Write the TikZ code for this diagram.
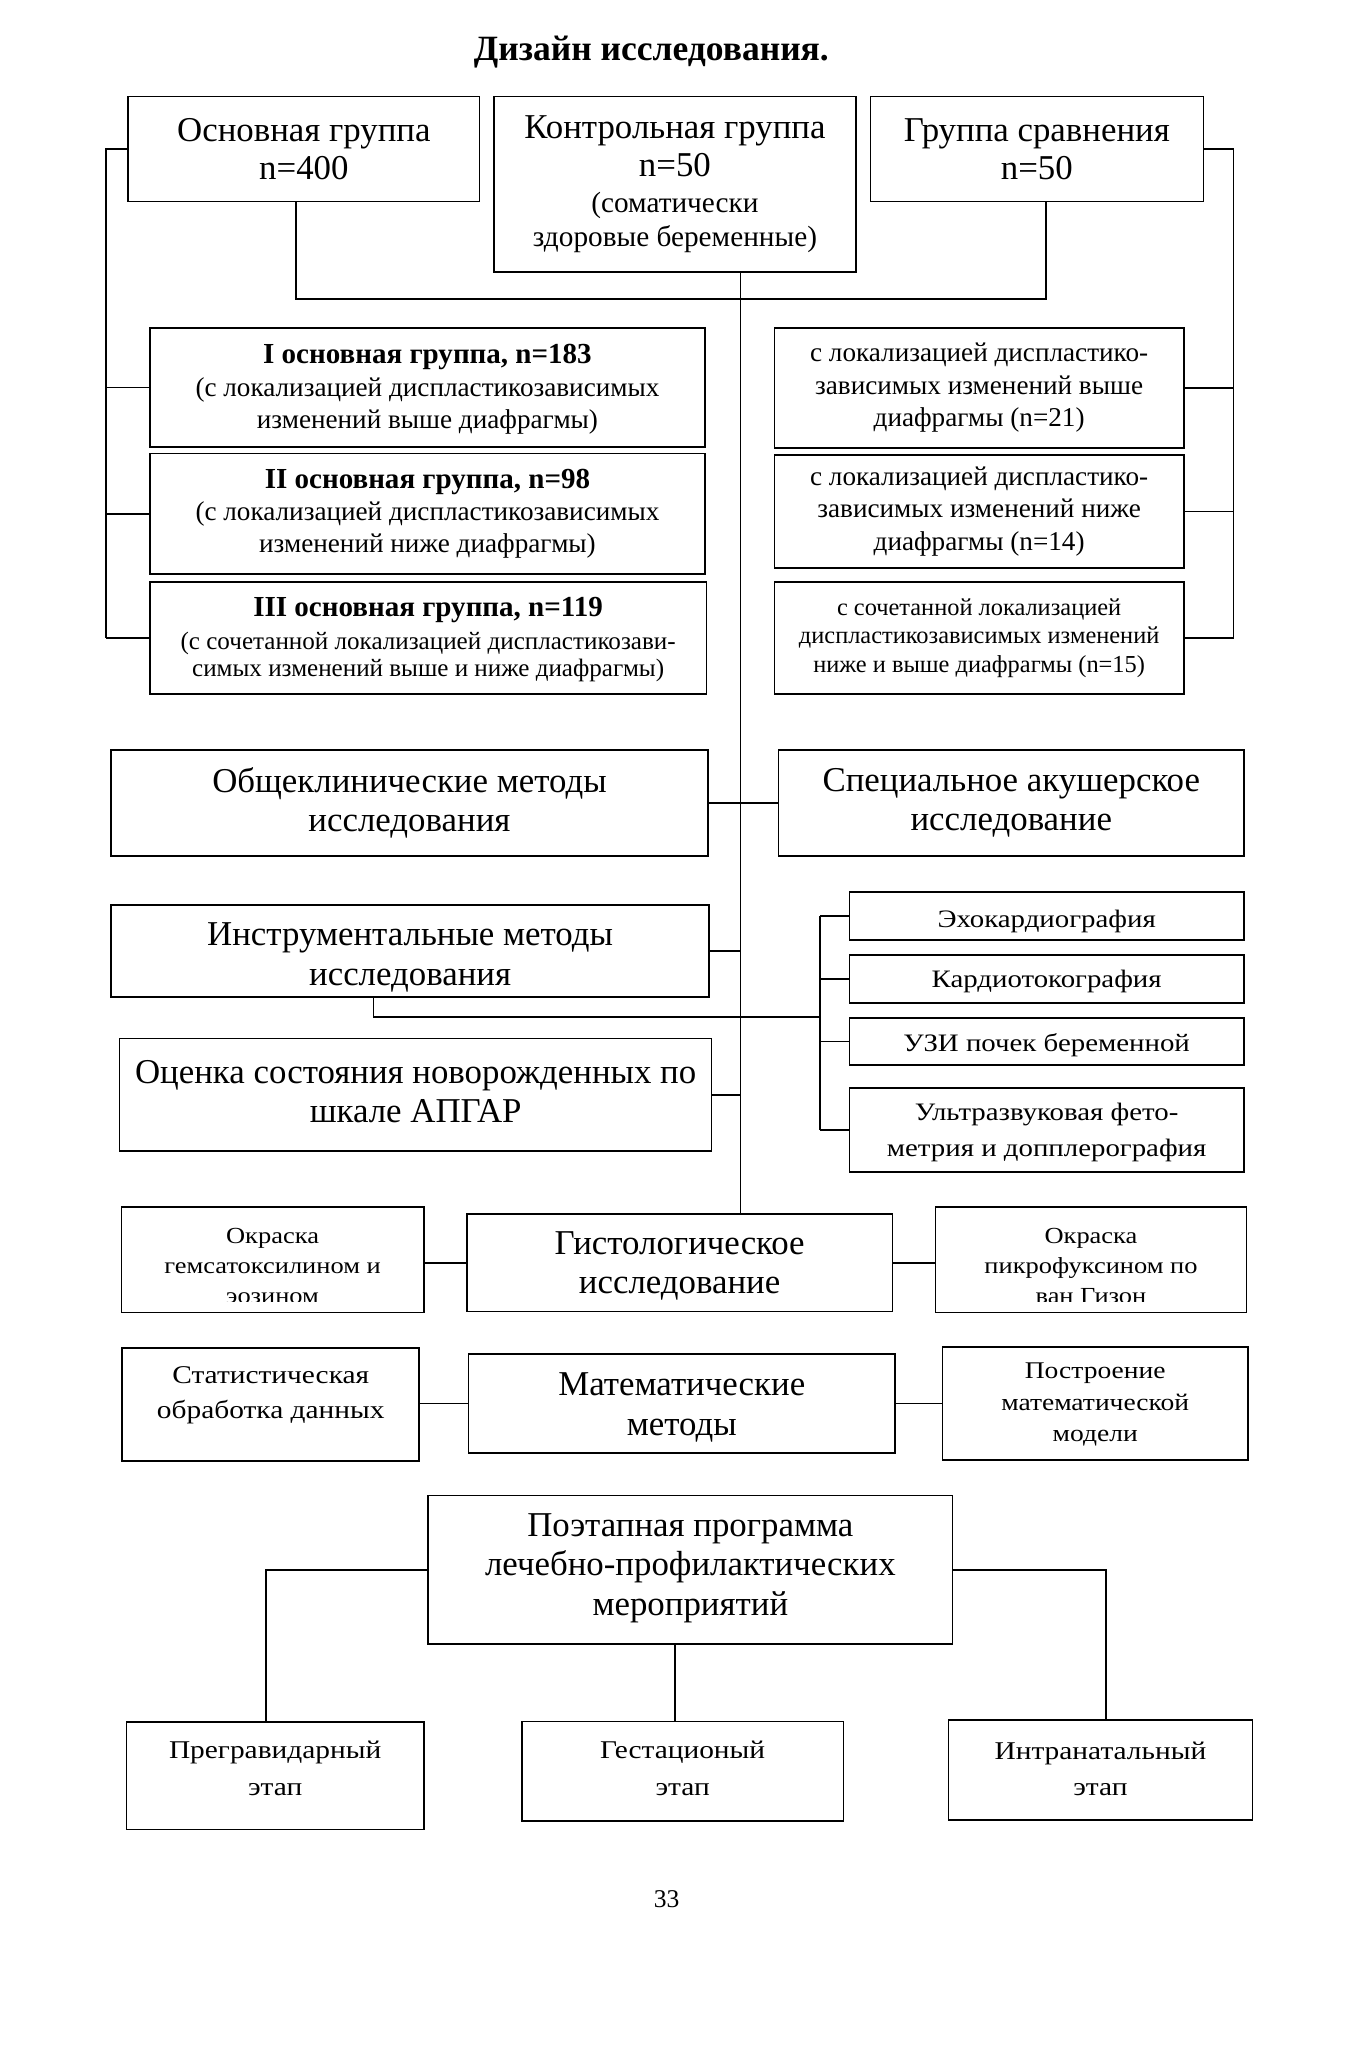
\documentclass[tikz,border=0pt]{standalone}
\usepackage{fontspec}
\setmainfont{Liberation Serif}
\newfontfamily\widefont[FakeStretch=1.15]{Liberation Serif}
\usetikzlibrary{calc}

\begin{document}
\begin{tikzpicture}[x=0.01984cm, y=-0.02cm,
  box/.style={draw, line width=0.7pt, inner sep=0pt},
  txt/.style={align=center, inner sep=0pt},
  link/.style={line width=0.7pt},
  big/.style={txt, font=\fontsize{15}{17}\selectfont},
  grp/.style={txt, font=\fontsize{11.7}{13.9}\selectfont},
  subw/.style={txt, font=\widefont\fontsize{10.8}{15.7}\selectfont},
  stainw/.style={txt, font=\widefont\fontsize{9.9}{12.9}\selectfont},
  stagew/.style={txt, font=\widefont\fontsize{11}{15.8}\selectfont}]

%─────────────
% Controls
%─────────────
\useasboundingbox (-0.78,0) rectangle (1031.48,1550.4);
\newcommand{\grptitle}{\bfseries\fontsize{12.5}{13.9}\selectfont}
\newcommand{\ctrlsub}{\fontsize{12.6}{14.8}\selectfont}

%─────────────────────────────────────────────────────────────
% Box = frame node + text node (corners in page units, y down)
%─────────────────────────────────────────────────────────────
\newcommand{\drawBox}[8]{%
  \pgfmathsetlengthmacro{\boxW}{(#5-#3)*0.01984cm}%
  \pgfmathsetlengthmacro{\boxH}{(#6-#4)*0.02cm}%
  \node[box, minimum width=\boxW, minimum height=\boxH] (#1) at ({(#3+#5)/2},{(#4+#6)/2}) {};
  \node[#2] (#1-txt) at ({(#3+#5)/2},{(#4+#6)/2+#8}) {#7};
}
% same, but the text is cut off above the bottom edge
\newcommand{\drawCutBox}[9]{%
  \begin{scope}
    \clip (#3,#4) rectangle (#5,#9);
    \node[#2] (#1-txt) at ({(#3+#5)/2},{(#4+#6)/2+#8}) {#7};
  \end{scope}
  \pgfmathsetlengthmacro{\boxW}{(#5-#3)*0.01984cm}%
  \pgfmathsetlengthmacro{\boxH}{(#6-#4)*0.02cm}%
  \node[box, minimum width=\boxW, minimum height=\boxH] (#1) at ({(#3+#5)/2},{(#4+#6)/2}) {};
}

%─────────────
% Title
%─────────────
\node[font=\bfseries\fontsize{15.3}{17}\selectfont] (title) at (496,39.6) {Дизайн исследования.};

%─────────────
% Groups
%─────────────
\drawBox{osn}{big}{97}{73}{365}{152.5}{Основная группа\\[-0.5pt]n=400}{0}
\drawBox{ctrl}{big}{376}{73}{652}{205.5}{Контрольная группа\\[-0.5pt]n=50\\[-1.6pt]\ctrlsub (соматически\\[-2.2pt]\ctrlsub здоровые беременные)}{0}
\drawBox{cmp}{big}{663}{73}{917}{152.5}{Группа сравнения\\[-0.5pt]n=50}{0}

\drawBox{grpI}{grp}{113.5}{248}{537}{338}{\grptitle I основная группа, n=183\\(с локализацией диспластикозависимых\\изменений выше диафрагмы)}{1.5}
\drawBox{grpII}{grp}{113.5}{343}{537}{434}{\grptitle II основная группа, n=98\\(с локализацией диспластикозависимых\\изменений ниже диафрагмы)}{0}
\drawBox{grpIII}{txt, font=\fontsize{10.8}{11.6}\selectfont}{113.5}{440}{538}{525}{\grptitle III основная группа, n=119\\[2.6pt](с сочетанной локализацией диспластикозави-\\симых изменений выше и ниже диафрагмы)}{1.5}

\drawBox{cmpI}{grp}{590}{248}{902}{338.6}{с локализацией диспластико-\\зависимых изменений выше\\диафрагмы (n=21)}{0}
\drawBox{cmpII}{grp}{590}{344}{902}{429.4}{с локализацией диспластико-\\зависимых изменений ниже\\диафрагмы (n=14)}{0}
\drawBox{cmpIII}{txt, font=\fontsize{10.5}{12.2}\selectfont}{590}{440}{902}{525}{с сочетанной локализацией\\диспластикозависимых изменений\\ниже и выше диафрагмы (n=15)}{0}

%─────────────
% Methods
%─────────────
\drawBox{obsh}{big}{84}{567}{539}{647.5}{Общеклинические методы\\исследования}{0}
\drawBox{spec}{big}{593}{567}{948}{647.5}{Специальное акушерское\\исследование}{0}
\drawBox{instr}{big}{84}{684.5}{540}{754}{Инструментальные методы\\исследования}{5}
\drawBox{apgar}{big}{90.5}{785.3}{542}{870.6}{Оценка состояния новорожденных по\\шкале АПГАР}{-2.5}

\drawCutBox{echo}{subw}{647}{674.5}{948}{711}{Эхокардиография}{4}{706}
\drawCutBox{ctg}{subw}{647}{722.4}{948}{758.4}{Кардиотокография}{1.6}{753.5}
\drawCutBox{uzi}{subw}{647}{770}{948}{805.6}{УЗИ почек беременной}{3}{801}
\drawCutBox{ultra}{subw}{647}{823}{948}{886.3}{Ультразвуковая фето-\\метрия и допплерография}{2}{881}

\drawCutBox{stainL}{stainw}{91.8}{913}{322.4}{992.6}{Окраска\\гемсатоксилином и\\эозином}{4.7}{984}
\drawBox{hist}{big}{355.3}{918}{679.8}{992}{Гистологическое\\исследование}{2.5}
\drawCutBox{stainR}{stainw}{712.7}{913}{949.9}{992.6}{Окраска\\пикрофуксином по\\ван Гизон}{4.7}{984}

\drawBox{stat}{txt, font=\widefont\fontsize{11}{15.2}\selectfont}{92.4}{1019.6}{319}{1105}{Статистическая\\обработка данных}{-7}
\drawBox{math}{big}{356.6}{1024}{681.8}{1099}{Математические\\методы}{3}
\drawBox{model}{txt, font=\widefont\fontsize{10.3}{13.6}\selectfont}{718}{1018.7}{951}{1104}{Построение\\математической\\модели}{1}

%─────────────
% Programme
%─────────────
\drawBox{prog}{big}{325.7}{1131}{725.8}{1243.5}{Поэтапная программа\\лечебно-профилактических\\мероприятий}{-1.5}
\drawBox{pregrav}{stagew}{95.7}{1302.5}{322.4}{1383.5}{Прегравидарный\\этап}{-5.5}
\drawBox{gest}{stagew}{397.3}{1301.8}{642.4}{1377}{Гестационый\\этап}{-1.8}
\drawBox{intra}{stagew}{722.5}{1301}{954.5}{1376.5}{Интранатальный\\этап}{-1}

\node[font=\fontsize{11}{13}\selectfont] (page) at (507.7,1436.6) {33};

%─────────────
% Connectors
%─────────────
\coordinate (busL) at (225,226);
\coordinate (busR) at (797,226);
\coordinate (trunk) at (564,0);
\coordinate (brL) at (80,0);
\coordinate (brR) at (940,0);
\coordinate (instrDrop) at (284,769);
\coordinate (subBr) at (624.6,0);
\coordinate (stL) at (202,0);
\coordinate (stC) at (514,0);
\coordinate (stR) at (842.8,0);

\draw[link] (osn.south -| busL) -- (busL) -- (busR) -- (busR |- cmp.south);
\draw[link] (ctrl.south -| trunk) -- (hist.north -| trunk);

% left and right brackets
\draw[link] (osn.west) -- (osn.west -| brL) -- (grpIII.west -| brL);
\foreach \g in {grpI,grpII,grpIII} {
  \draw[link] (\g.west) -- (\g.west -| brL);
}
\draw[link] (cmp.east) -- (cmp.east -| brR) -- (cmpIII.east -| brR);
\foreach \g in {cmpI,cmpII,cmpIII} {
  \draw[link] (\g.east) -- (\g.east -| brR);
}

% methods to trunk
\draw[link] (obsh.east) -- (spec.west);
\draw[link] (instr.east) -- (instr.east -| trunk);
\draw[link] (apgar.east) -- (apgar.east -| trunk);

% instrumental sub-methods
\draw[link] (instr.south -| instrDrop) -- (instrDrop) -- (instrDrop -| subBr);
\draw[link] (echo.west -| subBr) -- (ultra.west -| subBr);
\foreach \s in {echo,ctg,uzi,ultra} {
  \draw[link] (\s.west) -- (\s.west -| subBr);
}

% histology and mathematics
\draw[link] (stainL.east |- hist.west) -- (hist.west);
\draw[link] (hist.east) -- (hist.east -| stainR.west);
\draw[link] (stat.east |- math.west) -- (math.west);
\draw[link] (math.east) -- (math.east -| model.west);

% stages
\draw[link] (prog.west) -- (prog.west -| stL) -- (pregrav.north -| stL);
\draw[link] (prog.south -| stC) -- (gest.north -| stC);
\draw[link] (prog.east) -- (prog.east -| stR) -- (intra.north -| stR);

\end{tikzpicture}
\end{document}
